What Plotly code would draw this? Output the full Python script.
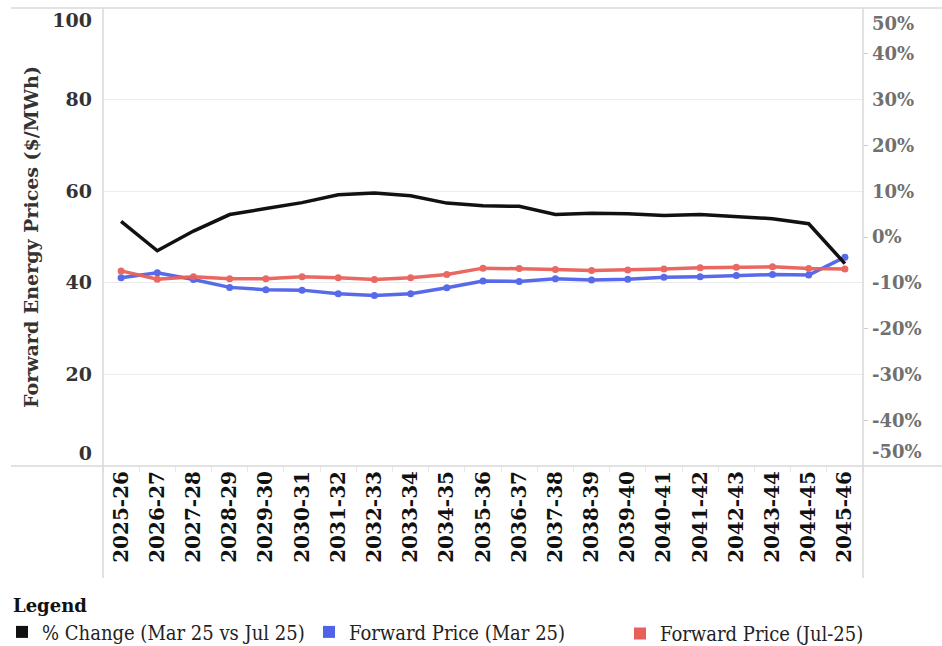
import plotly.graph_objects as go

# Financial years on the category axis
years = ["2025-26", "2026-27", "2027-28", "2028-29", "2029-30", "2030-31", "2031-32",
         "2032-33", "2033-34", "2034-35", "2035-36", "2036-37", "2037-38", "2038-39",
         "2039-40", "2040-41", "2041-42", "2042-43", "2043-44", "2044-45", "2045-46"]

# Forward energy prices ($/MWh)
price_mar25 = [41.1, 42.2, 40.7, 39.0, 38.5, 38.4, 37.6, 37.2, 37.6, 38.9, 40.4,
               40.3, 40.9, 40.6, 40.8, 41.2, 41.3, 41.6, 41.8, 41.7, 45.6]
price_jul25 = [42.6, 40.8, 41.3, 40.9, 40.9, 41.3, 41.1, 40.7, 41.1, 41.8, 43.2,
               43.1, 42.9, 42.7, 42.8, 43.0, 43.3, 43.4, 43.5, 43.1, 43.0]

# Percentage change between the two price curves (%)
pct_change = [3.4, -3.0, 1.3, 4.9, 6.2, 7.5, 9.2, 9.6, 9.0, 7.4, 6.8,
              6.7, 4.9, 5.2, 5.1, 4.7, 4.9, 4.5, 4.0, 2.9, -5.8]

# Axis tick labels
price_ticks = ["0", "20", "40", "60", "80", "100"]
pct_ticks = ["-50%", "-40%", "-30%", "-20%", "-10%", "0%", "10%", "20%", "30%", "40%", "50%"]

BLACK = "#111111"
BLUE = "#4F63E8"
RED = "#E9605A"
SERIF = "DejaVu Serif"

fig = go.Figure()

fig.add_trace(go.Scatter(x=years, y=pct_change, yaxis="y2", mode="lines",
                         line=dict(color=BLACK, width=3.5), showlegend=False,
                         hovertemplate="%{x}: %{y:.1f}%<extra></extra>"))
fig.add_trace(go.Scatter(x=years, y=price_mar25, mode="lines+markers",
                         line=dict(color=BLUE, width=3.5), marker=dict(color=BLUE, size=7),
                         opacity=0.95, showlegend=False))
fig.add_trace(go.Scatter(x=years, y=price_jul25, mode="lines+markers",
                         line=dict(color=RED, width=3.5), marker=dict(color=RED, size=7),
                         opacity=0.95, showlegend=False))

# Square swatches for the legend (the last entry sits in a second legend box)
for name, col, lg in [("% Change (Mar 25 vs Jul 25)", BLACK, "legend"),
                      ("Forward Price (Mar 25)", BLUE, "legend"),
                      ("Forward Price (Jul-25)", RED, "legend2")]:
    fig.add_trace(go.Scatter(x=[None], y=[None], mode="markers", name=name, legend=lg,
                             marker=dict(symbol="square", size=12, color=col)))

# Label positions for the end ticks are nudged inside the plot area
price_tickvals = [2.8, 20, 40, 60, 80, 97.2]
pct_tickvals = [-46.9, -40, -30, -20, -10, 0, 10, 20, 30, 40, 46.6]

W, H = 942, 646
L, R, T, B = 103, 79, 8, 180
pw, ph = W - L - R, H - T - B

def px_x(v):
    return (v - L) / pw

def px_y(v):
    return (H - B - v) / ph

line_col = "#d9d9d9"
shapes = [
    dict(type="line", xref="paper", yref="paper", x0=px_x(11), x1=px_x(W), y0=1, y1=1,
         line=dict(color=line_col, width=1.5)),
    dict(type="line", xref="paper", yref="paper", x0=px_x(11), x1=px_x(W), y0=0, y1=0,
         line=dict(color=line_col, width=1.5)),
    dict(type="line", xref="paper", yref="paper", x0=0, x1=0, y0=1, y1=px_y(578),
         line=dict(color=line_col, width=1.5)),
    dict(type="line", xref="paper", yref="paper", x0=1, x1=1, y0=1, y1=px_y(578),
         line=dict(color=line_col, width=1.5)),
]

legend_font = dict(family="DejaVu Serif Condensed", size=20, color="#222222")

fig.update_layout(
    width=W, height=H,
    margin=dict(l=L, r=R, t=T, b=B, pad=0, autoexpand=False),
    paper_bgcolor="white", plot_bgcolor="white",
    font=dict(family=SERIF, color="#333333"),
    shapes=shapes,
    xaxis=dict(type="category", categoryorder="array", categoryarray=years,
               range=[-0.5, len(years) - 0.5], automargin=False,
               tickangle=-90, tickfont=dict(family=SERIF, size=20, color="#111111", weight="bold"),
               ticks="outside", tickson="boundaries", ticklen=5, tickcolor="#e6e6e6",
               showgrid=False, showline=False, zeroline=False),
    yaxis=dict(range=[0, 100], tickmode="array", tickvals=price_tickvals, ticktext=price_ticks,
               tickfont=dict(family=SERIF, size=19, color="#333333", weight="bold"),
               ticks="", ticklabelstandoff=10, automargin=False,
               showgrid=False, showline=False, zeroline=False,
               minor=dict(tickmode="array", tickvals=[20, 40, 60, 80], showgrid=True,
                          gridcolor="#ececec", gridwidth=1, ticks=""),
               title=dict(text="Forward Energy Prices ($/MWh)", standoff=8,
                          font=dict(family=SERIF, size=19, color="#333333", weight="bold"))),
    yaxis2=dict(range=[-50, 50], overlaying="y", side="right", tickmode="array",
                tickvals=pct_tickvals, ticktext=pct_ticks, automargin=False,
                tickfont=dict(family=SERIF, size=18, color="#707070", weight="bold"),
                ticks="", ticklabelstandoff=8, showgrid=False, showline=False, zeroline=False,
                minor=dict(tickmode="array", tickvals=[-40, -20, 0, 20, 40], ticks="outside",
                           ticklen=4, tickcolor="#cccccc", showgrid=False)),
    legend=dict(orientation="h", xref="container", yref="container",
                x=2 / W, xanchor="left", y=(H - 589) / H, yanchor="top",
                title=dict(text="\u2002<b>Legend</b>", side="top",
                           font=dict(family=SERIF, size=18, color="#111111")),
                font=legend_font,
                entrywidth=262, entrywidthmode="pixels", itemwidth=30,
                tracegroupgap=0, bgcolor="rgba(0,0,0,0)"),
    legend2=dict(orientation="h", xref="container", yref="container",
                 x=620 / W, xanchor="left", y=(H - 614) / H, yanchor="top",
                 font=legend_font, itemwidth=30, bgcolor="rgba(0,0,0,0)"),
    hovermode="closest",
)

fig.write_html("out.html")
